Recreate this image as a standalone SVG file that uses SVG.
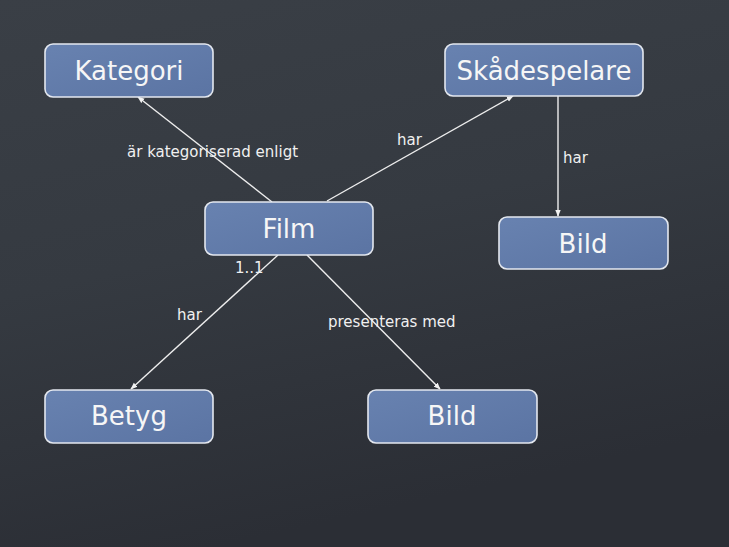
<svg xmlns="http://www.w3.org/2000/svg" width="729" height="547" viewBox="0 0 729 547">
<defs>
<linearGradient id="bg" x1="0" y1="0" x2="0.3" y2="1">
<stop offset="0" stop-color="#3a3f46"/>
<stop offset="0.5" stop-color="#353a41"/>
<stop offset="1" stop-color="#2b2e35"/>
</linearGradient>
<linearGradient id="nodefill" x1="0" y1="0" x2="1" y2="1">
<stop offset="0" stop-color="#6882b0"/>
<stop offset="1" stop-color="#5b74a3"/>
</linearGradient>
<marker id="arr" viewBox="0 0 10 10" refX="9" refY="5" markerWidth="7" markerHeight="7" orient="auto" markerUnits="userSpaceOnUse">
<path d="M0,1 L10,5 L0,9 Z" fill="#f2f2f2"/>
</marker>
</defs>
<style>
.node rect{fill:url(#nodefill);stroke:#e4e8ef;stroke-width:1.6}
.node text{font-family:"DejaVu Sans","Noto Sans",sans-serif;font-size:26px;fill:#f6f6f6;text-anchor:middle}
.conn line{stroke:#eeeeee;stroke-width:1.4;marker-end:url(#arr)}
.lbl{font-family:"DejaVu Sans","Noto Sans",sans-serif;font-size:15px;fill:#f0f0f0}
</style>
<rect x="0" y="0" width="729" height="547" fill="url(#bg)"/>
<g id="connectors" class="conn">
<line x1="272" y1="202" x2="138" y2="97"/>
<line x1="327" y1="201" x2="513" y2="96"/>
<line x1="558" y1="96" x2="558" y2="216"/>
<line x1="278" y1="255" x2="131" y2="389"/>
<line x1="307" y1="255" x2="440" y2="389"/>
</g>
<g id="labels">
<text class="lbl" x="127" y="157">är kategoriserad enligt</text>
<text class="lbl" x="397" y="145">har</text>
<text class="lbl" x="563" y="163">har</text>
<text class="lbl" x="235" y="273">1..1</text>
<text class="lbl" x="177" y="320">har</text>
<text class="lbl" x="328" y="327">presenteras med</text>
</g>
<g id="node-kategori" class="node">
<rect x="45" y="44" width="168" height="53" rx="8"/>
<text x="129" y="80">Kategori</text>
</g>
<g id="node-skadespelare" class="node">
<rect x="445" y="44" width="198" height="52" rx="8"/>
<text x="544" y="80">Skådespelare</text>
</g>
<g id="node-film" class="node">
<rect x="205" y="202" width="168" height="53" rx="8"/>
<text x="289" y="238">Film</text>
</g>
<g id="node-bild-right" class="node">
<rect x="499" y="217" width="169" height="52" rx="8"/>
<text x="583" y="253">Bild</text>
</g>
<g id="node-betyg" class="node">
<rect x="45" y="390" width="168" height="53" rx="8"/>
<text x="129" y="425">Betyg</text>
</g>
<g id="node-bild-bottom" class="node">
<rect x="368" y="390" width="169" height="53" rx="8"/>
<text x="452" y="425">Bild</text>
</g>
</svg>
